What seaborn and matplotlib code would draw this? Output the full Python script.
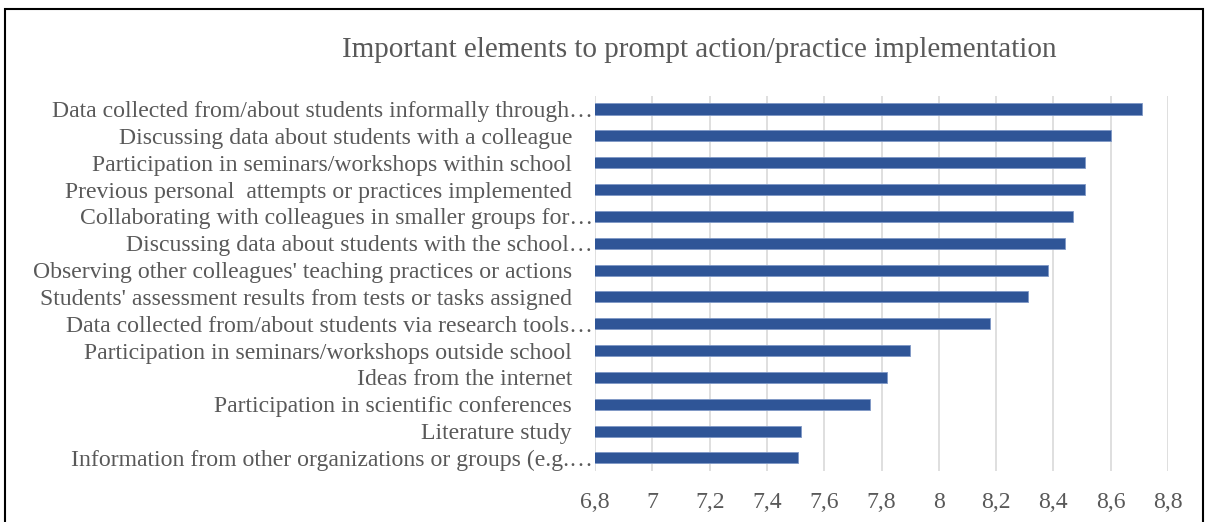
import matplotlib
matplotlib.use("Agg")
import matplotlib.pyplot as plt
import matplotlib.ticker as mticker
import matplotlib.transforms as mtransforms
from matplotlib.patches import Rectangle
import seaborn as sns
import pandas as pd

labels = [
    "Data collected from/about students informally through…",
    "Discussing data about students with a colleague",
    "Participation in seminars/workshops within school",
    "Previous personal  attempts or practices implemented",
    "Collaborating with colleagues in smaller groups for…",
    "Discussing data about students with the school…",
    "Observing other colleagues' teaching practices or actions",
    "Students' assessment results from tests or tasks assigned",
    "Data collected from/about students via research tools…",
    "Participation in seminars/workshops outside school",
    "Ideas from the internet",
    "Participation in scientific conferences",
    "Literature study",
    "Information from other organizations or groups (e.g.…",
]
scores = [8.71, 8.60, 8.51, 8.51, 8.47, 8.44, 8.38, 8.31, 8.18, 7.90, 7.82, 7.76, 7.52, 7.51]
x_ticks = [6.8, 7.0, 7.2, 7.4, 7.6, 7.8, 8.0, 8.2, 8.4, 8.6, 8.8]

df = pd.DataFrame({"element": labels, "score": scores})

sns.set_style("white")
plt.rcParams["font.family"] = ["Liberation Serif", "DejaVu Serif"]
text_col = "#595959"

fig = plt.figure(figsize=(12.06, 5.22), dpi=100)
ax = fig.add_axes([0.4934, 0.0969, 0.4751, 0.72])

sns.barplot(data=df, x="score", y="element", orient="h", color="#2F5597",
            saturation=1, width=0.41, edgecolor="#7F98C6", linewidth=0.6, ax=ax)

ax.set_xlim(6.8, 8.8)
ax.set_xticks(x_ticks)
ax.xaxis.set_major_formatter(mticker.FuncFormatter(
    lambda v, p: f"{v:g}".replace(".", ",")))
ax.grid(axis="x", color="#D9D9D9", linewidth=1.2)
ax.set_axisbelow(True)
for s in ax.spines.values():
    s.set_visible(False)
ax.tick_params(axis="both", length=0, labelsize=17.1, colors=text_col)
ax.tick_params(axis="y", pad=16.6)
ax.tick_params(axis="x", pad=15)
ax.set_xlabel("")
ax.set_ylabel("")

# truncated labels: the ellipsis hangs past the right edge, as in Excel
shift = mtransforms.ScaledTranslation(21 / 100, 0, fig.dpi_scale_trans)
for t in ax.get_yticklabels():
    if t.get_text().endswith("…"):
        t.set_transform(t.get_transform() + shift)

fig.text(0.58, 0.905, "Important elements to prompt action/practice implementation",
         ha="center", va="center", fontsize=21, color=text_col)

fig.patches.append(Rectangle((4.5 / 1206, -0.05), 1 - 8 / 1206, 1.05 - 9 / 522,
                             transform=fig.transFigure, fill=False,
                             edgecolor="black", linewidth=1.5))

fig.savefig("out.png", dpi=100)
